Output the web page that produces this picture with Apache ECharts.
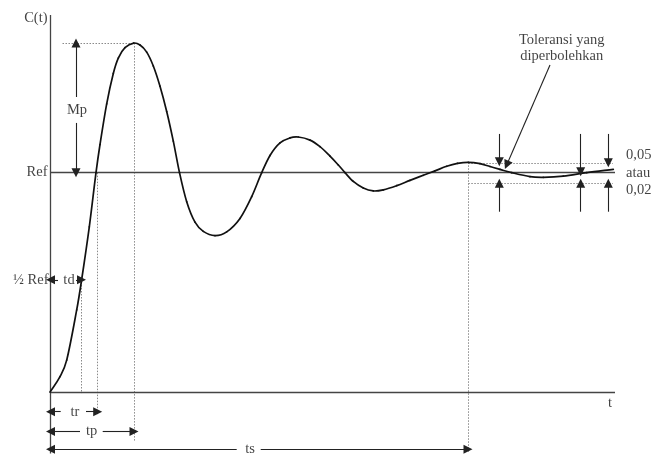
<!DOCTYPE html>
<html>
<head>
<meta charset="utf-8">
<script src="https://cdn.jsdelivr.net/npm/echarts@6/dist/echarts.min.js"></script>
<style>html,body{margin:0;padding:0;background:#fff;}#c{width:660px;height:455px;}</style>
</head>
<body>
<div id="c"></div>
<script>
// Step response c(t): time (arbitrary units) and value (Ref ~ 1)
const curveT = [0,1.0,1.67,2.67,3.13,3.93,4.6,5.0,5.67,6.33,6.83,7.5,8.37,9.0,9.67,10.33,11.0,11.67,12.33,12.95,13.67,14.5,15.33,16.5,17.67,19.0,20.17,21.17,22.0,23.0,24.0,24.83,26.0,27.0,28.0,28.83,29.5,30.33,31.33,32.33,33.33,34.67,36.0,37.33,38.5,39.67,40.75,41.83,43.0,44.0,45.0,46.17,48.0,49.33,51.33,53.67,56.33];
const curveC = [0,0.07,0.145,0.373,0.5,0.751,0.997,1.125,1.31,1.448,1.518,1.565,1.586,1.577,1.545,1.482,1.39,1.275,1.14,0.997,0.865,0.772,0.73,0.711,0.728,0.789,0.888,0.997,1.075,1.132,1.155,1.159,1.145,1.115,1.072,1.032,0.997,0.957,0.927,0.914,0.919,0.938,0.962,0.985,1.005,1.026,1.039,1.044,1.038,1.025,1.012,0.997,0.979,0.976,0.981,0.997,1.012];

// Characteristic times and levels
const refLevel = 0.997;
const tD = 3.13, tR = 4.7, tP = 8.4, tS = 41.83;
const peakLevel = 1.586;
const tolUpper = 1.04, tolLower = 0.951;
const tEnd = 56.5;

// Solid straight segments [[t1,c1],[t2,c2]]
const solidSegs = [
  [[0,-0.28],[0,1.714]],
  [[0,0],[tEnd,0]],
  [[0,refLevel],[tEnd,refLevel]]
];
// Dotted guide segments
const dottedSegs = [
  [[1.25,peakLevel],[tP,peakLevel]],
  [[tD,0.5],[tD,-0.005]],
  [[tR,refLevel],[tR,-0.105]],
  [[tP,peakLevel],[tP,-0.226]],
  [[tS,1.044],[tS,-0.277]],
  [[tS,tolUpper],[56.3,tolUpper]],
  [[tS,tolLower],[56.3,tolLower]]
];
// Arrows: from -> to (head at "to")
const arrowSegs = [
  [[2.6,1.341],[2.6,peakLevel]],
  [[2.6,1.223],[2.6,refLevel]],
  [[0.8,0.51],[0.05,0.51]],
  [[2.6,0.51],[3.15,0.51]],
  [[1.07,-0.0895],[0.05,-0.0895]],
  [[3.6,-0.0895],[4.77,-0.0895]],
  [[3.0,-0.18],[0.05,-0.18]],
  [[5.27,-0.18],[8.4,-0.18]],
  [[18.67,-0.26],[0.05,-0.26]],
  [[21.07,-0.26],[41.8,-0.26]],
  [[44.93,1.173],[44.93,1.047]],
  [[53.07,1.173],[53.07,1.001]],
  [[55.83,1.173],[55.83,1.042]],
  [[44.93,0.8195],[44.93,0.9486]],
  [[53.07,0.8195],[53.07,0.9486]],
  [[55.83,0.8195],[55.83,0.9486]],
  [[50.0,1.486],[45.67,1.032]]
];
// Text labels: [text, t, c, align]
const labels = [
  ['C(t)', -0.15, 1.70, 'right'],
  ['Ref', -0.15, refLevel, 'right'],
  ['\u00BD Ref', -0.05, 0.51, 'right'],
  ['Mp', 2.7, 1.282, 'center'],
  ['td', 1.9, 0.51, 'center'],
  ['tr', 2.5, -0.0895, 'center'],
  ['tp', 4.17, -0.18, 'center'],
  ['ts', 20.0, -0.26, 'center'],
  ['t', 56.0, -0.05, 'center'],
  ['Toleransi yang', 51.17, 1.60, 'center'],
  ['diperbolehkan', 51.17, 1.527, 'center'],
  ['0,05', 57.5, 1.077, 'left'],
  ['atau', 57.5, 0.995, 'left'],
  ['0,02', 57.5, 0.918, 'left']
];

const chart = echarts.init(document.getElementById('c'), null, {renderer:'canvas'});
const FONT = '"Liberation Serif", "DejaVu Serif", serif';
const segData = segs => segs.map(s => ({coords: s}));
const N = curveT.length;

// Smooth curve: cubic Bezier pieces between consecutive read points,
// tangents from neighbouring points (central differences, screen space).
function renderCurve(params, api) {
  const i = params.dataIndex;
  if (i >= N - 1) return null;
  const P = k => { const j = Math.max(0, Math.min(N - 1, k)); return api.coord([curveT[j], curveC[j]]); };
  const p0 = P(i - 1), p1 = P(i), p2 = P(i + 1), p3 = P(i + 2);
  const dx = p2[0] - p1[0];
  const m1 = (i === 0) ? (p2[1] - p1[1]) / (p2[0] - p1[0]) : (p2[1] - p0[1]) / (p2[0] - p0[0]);
  const m2 = (i + 1 === N - 1) ? (p2[1] - p1[1]) / (p2[0] - p1[0]) : (p3[1] - p1[1]) / (p3[0] - p1[0]);
  return {
    type: 'bezierCurve',
    shape: {
      x1: p1[0], y1: p1[1], x2: p2[0], y2: p2[1],
      cpx1: p1[0] + dx / 3, cpy1: p1[1] + m1 * dx / 3,
      cpx2: p2[0] - dx / 3, cpy2: p2[1] - m2 * dx / 3
    },
    style: {stroke: '#111', lineWidth: 1.7, fill: null, lineCap: 'round'}
  };
}

chart.setOption({
  animation: false,
  backgroundColor: '#fff',
  grid: {left: 0, right: 0, top: 0, bottom: 0},
  xAxis: {type: 'value', min: -5, max: 61, show: false},
  yAxis: {type: 'value', min: -63/220, max: 392/220, show: false},
  series: [
    {
      type: 'lines', coordinateSystem: 'cartesian2d',
      data: segData(dottedSegs), symbol: ['none','none'],
      lineStyle: {color: '#8a8a8a', width: 1, type: [1.5,1.5], opacity: 1}, silent: true
    },
    {
      type: 'lines', coordinateSystem: 'cartesian2d',
      data: segData(solidSegs), symbol: ['none','none'],
      lineStyle: {color: '#444', width: 1.3, opacity: 1}, silent: true
    },
    {
      type: 'custom', renderItem: renderCurve, clip: false, silent: true, z: 5,
      encode: {x: 0, y: 1},
      data: curveT.map((t, i) => [t, curveC[i]])
    },
    {
      type: 'lines', coordinateSystem: 'cartesian2d',
      data: segData(arrowSegs), symbol: ['none','triangle'], symbolSize: [5,9],
      lineStyle: {color: '#222', width: 1.1, opacity: 1},
      itemStyle: {color: '#222'}, silent: true, z: 6
    },
    {
      type: 'scatter', symbolSize: 1, itemStyle: {color: 'rgba(0,0,0,0)'}, silent: true, z: 7,
      data: labels.map(l => ({
        name: l[0], value: [l[1], l[2]],
        label: {
          show: true, position: 'inside', formatter: l[0], align: l[3], verticalAlign: 'middle',
          color: '#111', fontFamily: FONT, fontSize: 14.5,
          backgroundColor: (['Mp','td','tr','tp','ts'].indexOf(l[0]) >= 0) ? '#fff' : 'transparent',
          padding: [0,1]
        }
      }))
    }
  ]
});
</script>
</body>
</html>
